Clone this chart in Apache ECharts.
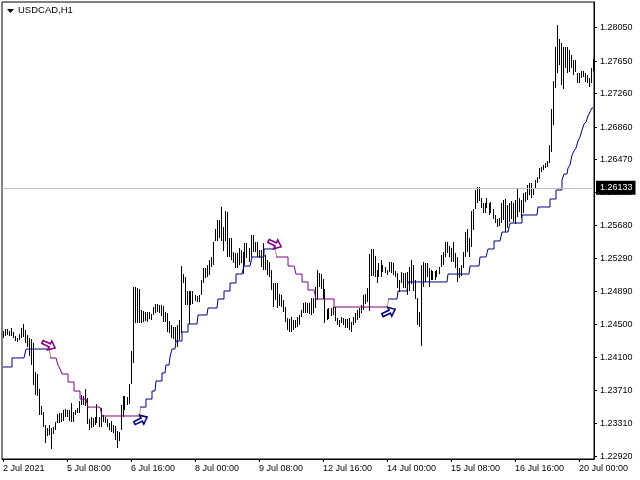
<!DOCTYPE html>
<html><head><meta charset="utf-8">
<style>html,body{margin:0;padding:0;background:#fff}#c{width:640px;height:480px}</style>
<script src="https://cdn.jsdelivr.net/npm/echarts@6/dist/echarts.min.js"></script>
</head><body><div id="c"></div>
<script>
const chartTitle = 'USDCAD,H1';
const lastPrice = 1.26133;
const tickLabels = ['2 Jul 2021','5 Jul 08:00','6 Jul 16:00','8 Jul 00:00','9 Jul 08:00','12 Jul 16:00','14 Jul 00:00','15 Jul 08:00','16 Jul 16:00','20 Jul 00:00'];
const priceTicks = [1.28050,1.27650,1.27260,1.26860,1.26470,1.26080,1.25680,1.25290,1.24890,1.24500,1.24100,1.23710,1.23310,1.22920];
const highs = [
1.24418,1.24442,1.24442,1.24418,1.24454,1.24406,1.24358,1.24334,1.24382,1.24454,
1.24502,1.24430,1.24370,1.24334,1.24322,1.24274,1.23927,1.23903,1.23723,1.23519,
1.23448,1.23292,1.23256,1.23292,1.23256,1.23268,1.23328,1.23424,1.23436,1.23436,
1.23472,1.23484,1.23472,1.23472,1.23555,1.23448,1.23472,1.23495,1.23579,1.23651,
1.23639,1.23723,1.23615,1.23364,1.23388,1.23376,1.23388,1.23543,1.23388,1.23495,
1.23412,1.23388,1.23364,1.23316,1.23340,1.23292,1.23280,1.23220,1.23208,1.23531,
1.23639,1.23639,1.23627,1.23783,1.24178,1.24945,1.24945,1.24933,1.24921,1.24669,
1.24657,1.24645,1.24645,1.24645,1.24621,1.24705,1.24741,1.24741,1.24729,1.24729,
1.24717,1.24645,1.24633,1.24538,1.24490,1.24466,1.24466,1.24490,1.24550,1.25196,
1.25100,1.25065,1.24897,1.24897,1.24897,1.24897,1.24849,1.24837,1.24849,1.25029,
1.25172,1.25172,1.25208,1.25268,1.25304,1.25484,1.25639,1.25747,1.25747,1.25903,
1.25663,1.25855,1.25843,1.25532,1.25532,1.25364,1.25352,1.25352,1.25412,1.25388,
1.25364,1.25472,1.25472,1.25412,1.25568,1.25568,1.25484,1.25484,1.25388,1.25388,
1.25472,1.25328,1.25268,1.25244,1.25148,1.24993,1.24993,1.24993,1.24861,1.24849,
1.24789,1.24705,1.24574,1.24562,1.24586,1.24550,1.24550,1.24586,1.24610,1.24669,
1.24753,1.24765,1.24753,1.24753,1.24813,1.24813,1.24945,1.25148,1.25112,1.25100,
1.25041,1.24921,1.24681,1.24693,1.24693,1.24705,1.24705,1.24574,1.24550,1.24586,
1.24574,1.24562,1.24562,1.24574,1.24526,1.24586,1.24633,1.24669,1.24693,1.24729,
1.24849,1.24861,1.24933,1.25340,1.25400,1.25400,1.25316,1.25148,1.25232,1.25268,
1.25208,1.25184,1.25148,1.25244,1.25244,1.25232,1.25136,1.25112,1.25029,1.25124,
1.25112,1.25112,1.25124,1.25184,1.25268,1.25208,1.25029,1.24813,1.24645,1.25208,
1.25244,1.25232,1.25232,1.25172,1.25148,1.25136,1.25136,1.25148,1.25184,1.25328,
1.25364,1.25484,1.25484,1.25436,1.25412,1.25484,1.25352,1.25304,1.25172,1.25208,
1.25364,1.25603,1.25639,1.25532,1.25855,1.25879,1.26106,1.26142,1.26142,1.26011,
1.25951,1.25951,1.26011,1.25951,1.25963,1.25879,1.25807,1.25759,1.25771,1.25951,
1.25987,1.25999,1.25927,1.25951,1.25975,1.25951,1.25987,1.26118,1.26011,1.25987,
1.26070,1.26082,1.26166,1.26190,1.26190,1.26118,1.26226,1.26262,1.26370,1.26382,
1.26406,1.26430,1.26454,1.26645,1.27076,1.27412,1.27819,1.28082,1.27915,1.27867,
1.27819,1.27819,1.27819,1.27783,1.27723,1.27663,1.27663,1.27508,1.27508,1.27532,
1.27532,1.27508,1.27484,1.27448,1.27568,1.27675];
const lows = [
1.24334,1.24358,1.24370,1.24358,1.24358,1.24334,1.24298,1.24286,1.24310,1.24334,
1.24346,1.24274,1.24226,1.24118,1.24011,1.23771,1.23651,1.23639,1.23412,1.23412,
1.23268,1.23076,1.23160,1.23172,1.23004,1.23184,1.23232,1.23316,1.23316,1.23328,
1.23340,1.23388,1.23388,1.23340,1.23328,1.23328,1.23412,1.23436,1.23436,1.23531,
1.23531,1.23519,1.23304,1.23232,1.23256,1.23268,1.23292,1.23316,1.23268,1.23268,
1.23328,1.23316,1.23268,1.23232,1.23208,1.23196,1.23112,1.23016,1.23100,1.23232,
1.23388,1.23472,1.23531,1.23543,1.23783,1.24035,1.24514,1.24514,1.24514,1.24514,
1.24526,1.24538,1.24526,1.24562,1.24550,1.24610,1.24633,1.24645,1.24633,1.24598,
1.24526,1.24526,1.24406,1.24394,1.24334,1.24322,1.24286,1.24226,1.24310,1.24394,
1.24993,1.24729,1.24729,1.24502,1.24729,1.24741,1.24777,1.24765,1.24765,1.24849,
1.24993,1.25053,1.25065,1.25089,1.25184,1.25208,1.25496,1.25496,1.25532,1.25496,
1.25376,1.25496,1.25304,1.25304,1.25268,1.25232,1.25172,1.25172,1.25208,1.25232,
1.25100,1.25208,1.25292,1.25244,1.25304,1.25364,1.25364,1.25304,1.25292,1.25184,
1.25148,1.25148,1.25089,1.25065,1.24909,1.24705,1.24789,1.24693,1.24717,1.24705,
1.24645,1.24526,1.24430,1.24406,1.24406,1.24430,1.24454,1.24466,1.24490,1.24586,
1.24633,1.24633,1.24633,1.24621,1.24610,1.24633,1.24693,1.24789,1.24945,1.24921,
1.24801,1.24514,1.24550,1.24562,1.24598,1.24610,1.24538,1.24490,1.24466,1.24514,
1.24490,1.24454,1.24454,1.24430,1.24406,1.24490,1.24514,1.24550,1.24574,1.24633,
1.24669,1.24741,1.24765,1.24657,1.25077,1.25077,1.25065,1.24993,1.25065,1.25065,
1.25124,1.25112,1.25089,1.25124,1.25112,1.25089,1.25065,1.24933,1.24885,1.24993,
1.24933,1.24933,1.24849,1.24897,1.24981,1.24897,1.24801,1.24490,1.24466,1.24238,
1.24945,1.25005,1.25065,1.24945,1.25029,1.25029,1.25029,1.25065,1.25100,1.25184,
1.25208,1.25304,1.25352,1.25304,1.25244,1.25244,1.25172,1.25005,1.25053,1.25077,
1.25172,1.25304,1.25364,1.25304,1.25424,1.25627,1.25879,1.25951,1.25975,1.25891,
1.25831,1.25831,1.25891,1.25807,1.25831,1.25759,1.25711,1.25663,1.25675,1.25711,
1.25747,1.25603,1.25651,1.25723,1.25759,1.25723,1.25699,1.25783,1.25843,1.25771,
1.25831,1.25963,1.25987,1.26046,1.26011,1.26046,1.26118,1.26190,1.26238,1.26322,
1.26346,1.26370,1.26382,1.26430,1.26562,1.26885,1.27328,1.27508,1.27603,1.27364,
1.27316,1.27568,1.27508,1.27520,1.27568,1.27484,1.27520,1.27388,1.27388,1.27448,
1.27460,1.27400,1.27388,1.27340,1.27388,1.27532];
const maLine = [
1.23987,1.23987,1.23987,1.23987,1.23987,
1.24095,1.24095,1.24095,1.24095,1.24095,1.24095,1.24095,
1.24202,1.24202,1.24202,1.24202,1.24202,1.24202,1.24202,1.24202,1.24202,1.24202,1.24202,1.24202,
1.24095,1.24095,1.24095,1.24095,
1.24011,1.23963,
1.23903,1.23903,1.23903,
1.23807,1.23807,1.23807,
1.23699,1.23699,1.23699,
1.23603,1.23603,1.23603,1.23603,
1.23507,1.23507,1.23507,1.23507,1.23507,1.23507,1.23507,
1.23400,1.23400,1.23400,1.23400,1.23400,1.23400,1.23400,1.23400,1.23400,1.23400,1.23400,1.23400,1.23400,1.23400,1.23400,1.23400,1.23400,1.23400,1.23400,
1.23507,1.23507,1.23507,
1.23603,1.23603,1.23603,
1.23699,1.23699,
1.23819,1.23819,1.23819,
1.23915,1.23915,
1.24011,1.24011,
1.24107,
1.24202,1.24202,
1.24298,1.24298,1.24298,
1.24406,1.24406,1.24406,
1.24502,1.24502,1.24502,1.24502,1.24502,
1.24610,1.24610,1.24610,1.24610,1.24610,
1.24693,1.24693,1.24693,1.24693,1.24693,
1.24801,1.24801,1.24801,
1.24897,1.24897,1.24897,
1.24993,1.24993,1.24993,
1.25100,1.25100,1.25100,1.25100,
1.25196,1.25196,1.25196,1.25196,
1.25304,1.25304,1.25304,1.25304,1.25304,1.25304,
1.25400,1.25400,1.25400,1.25400,1.25400,1.25400,
1.25304,1.25304,1.25304,1.25304,1.25304,1.25304,
1.25196,1.25196,1.25196,1.25196,
1.25100,1.25100,1.25100,
1.25005,1.25005,1.25005,
1.24909,1.24909,1.24909,1.24909,
1.24801,1.24801,1.24801,1.24801,1.24801,1.24801,1.24801,1.24801,1.24801,
1.24705,1.24705,1.24705,1.24705,1.24705,1.24705,1.24705,1.24705,1.24705,1.24705,1.24705,1.24705,1.24705,1.24705,1.24705,1.24705,1.24705,1.24705,1.24705,1.24705,1.24705,1.24705,1.24705,1.24705,1.24705,1.24705,1.24705,
1.24801,1.24801,1.24801,1.24801,1.24801,
1.24897,1.24897,1.24897,1.24897,1.24897,
1.25005,1.25005,1.25005,1.25005,1.25005,1.25005,1.25005,1.25005,1.25005,1.25005,1.25005,1.25005,1.25005,1.25005,1.25005,1.25005,1.25005,1.25005,1.25005,1.25005,
1.25100,1.25100,1.25100,1.25100,1.25100,1.25100,1.25100,1.25100,1.25100,1.25100,1.25100,
1.25196,1.25196,1.25196,1.25196,1.25196,
1.25304,1.25304,1.25304,1.25304,
1.25400,1.25400,1.25400,
1.25496,1.25496,1.25496,1.25496,
1.25603,1.25603,1.25603,1.25603,
1.25711,1.25711,1.25711,1.25711,1.25711,1.25711,
1.25807,1.25807,1.25807,1.25807,1.25807,1.25807,1.25807,1.25807,
1.25903,1.25903,1.25903,1.25903,1.25903,1.25903,
1.25999,1.25999,1.25999,
1.26106,1.26106,1.26106,
1.26226,1.26298,1.26298,1.26370,1.26406,1.26526,1.26574,1.26610,1.26693,1.26741,1.26825,1.26897,1.26921,1.26993,1.27041,1.27089];
// [first bar, last bar, kind]
const maSegments = [[0,23,'up'],[23,24,'turn'],[24,68,'down'],[68,69,'turn'],[69,136,'up'],[136,137,'turn'],[137,192,'down'],[192,193,'turn'],[193,295,'up']];
const downArrows = [[23,1.24250],[136,1.25460]];
const upArrows = [[69,1.23352],[193,1.24645]];

const NAVY='#000080', PURPLE='#800080', TAN='#c09080';
const segColor={up:NAVY,down:PURPLE,turn:TAN};
const font='"Liberation Sans",Arial,sans-serif';
// hollow double-outlined block arrow
const arrowPath='path://M0 5H10V0L20 8L10 16V11H0ZM2 7V9H12V12L17 8L12 4V7Z';

const maSeries = maSegments.map(([a,b,k],n)=>({
  type:'line', silent:true, showSymbol:false, animation:false, z:4,
  step: k==='turn' ? false : 'middle',
  data: maLine.map((v,i)=> (i>=a&&i<=b)? v : null),
  connectNulls:false,
  lineStyle:{color:segColor[k],width:1},
  itemStyle:{color:segColor[k]},
  markLine: n===0 ? {
    silent:true, symbol:'none', animation:false, z:6, precision:5,
    lineStyle:{color:'#c0c0c0',type:'solid',width:1},
    label:{position:'end',distance:2,formatter:()=>lastPrice.toFixed(5),color:'#fff',backgroundColor:'#000',
      fontFamily:font,fontSize:9,padding:[3,3,2,4]},
    data:[{yAxis:lastPrice}]
  } : undefined
}));

const arrowSeries=(data,color,rot)=>({
  type:'scatter', silent:true, animation:false, z:5,
  data, symbol:arrowPath, symbolSize:[16,13], symbolRotate:rot,
  itemStyle:{color:color,opacity:1}
});

const chart=echarts.init(document.getElementById('c'),null,{renderer:'canvas'});
chart.setOption({
  animation:false,
  backgroundColor:'#fff',
  title:{text:chartTitle,left:13,top:0,textStyle:{fontFamily:font,fontSize:9.5,fontWeight:'normal',color:'#000'}},
  graphic:[{type:'polygon',shape:{points:[[7,9],[14,9],[10.5,13]]},style:{fill:'#000'}}],
  grid:{left:2,top:2,width:592,height:457,show:true,borderColor:'#000',borderWidth:1,backgroundColor:'#fff'},
  xAxis:{type:'category',data:highs.map((_,i)=>i),boundaryGap:true,
    axisLine:{show:true,lineStyle:{color:'#000',width:1}},
    axisTick:{show:true,alignWithLabel:true,length:3,interval:(i)=>i%32===0,lineStyle:{color:'#000'}},
    axisLabel:{interval:(i)=>i%32===0,formatter:(v,i)=>tickLabels[i/32]||'',align:'left',margin:5,
      color:'#000',fontFamily:font,fontSize:9,showMaxLabel:true,hideOverlap:false},
    splitLine:{show:false}},
  yAxis:{type:'value',position:'right',min:1.22885,max:1.28358,scale:true,
    axisLine:{show:true,lineStyle:{color:'#000',width:1}},
    axisTick:{show:true,length:3,customValues:priceTicks,lineStyle:{color:'#000'}},
    axisLabel:{customValues:priceTicks,formatter:v=>(+v).toFixed(5),margin:6,color:'#000',fontFamily:font,fontSize:9},
    splitLine:{show:false}},
  series:[
    {type:'custom',silent:true,animation:false,z:3,clip:true,
     data:highs.map((h,i)=>[i,lows[i],h]),
     encode:{x:0,y:[1,2]},
     renderItem:(params,api)=>{
       const a=api.coord([api.value(0),api.value(1)]);
       const b=api.coord([api.value(0),api.value(2)]);
       const x=Math.floor(a[0])+0.5;
       return {type:'line',shape:{x1:x,y1:Math.round(a[1]),x2:x,y2:Math.round(b[1])},style:{stroke:'#000',lineWidth:1}};
     }},
    ...maSeries,
    arrowSeries(downArrows,PURPLE,-25),
    arrowSeries(upArrows,NAVY,25)
  ]
});
</script></body></html>
